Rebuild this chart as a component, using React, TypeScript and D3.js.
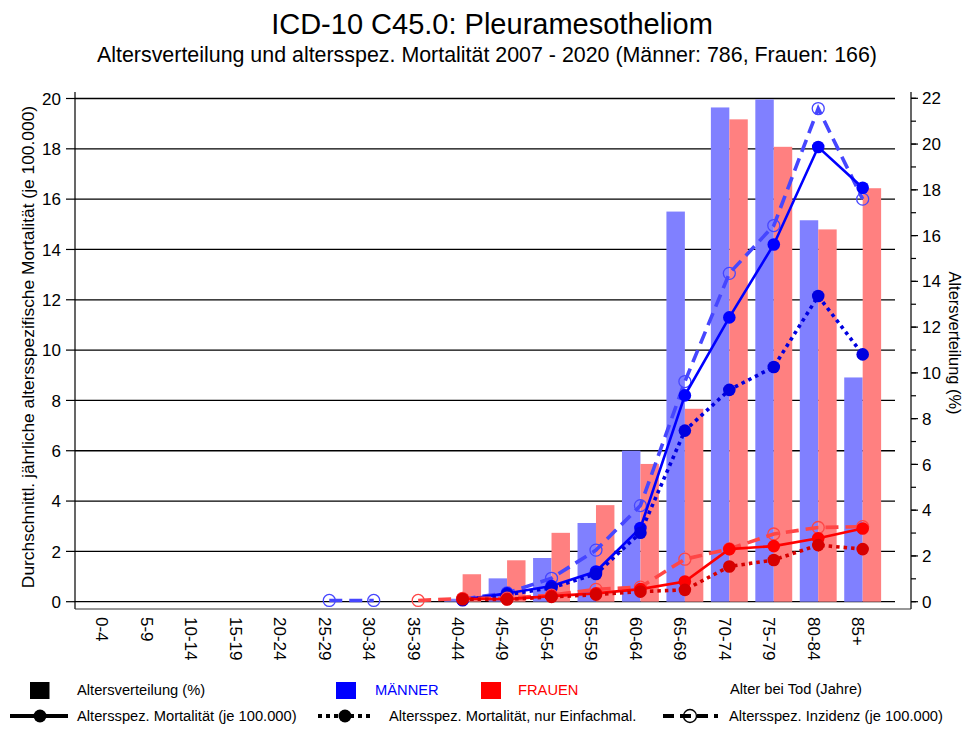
import React from "react";
import * as d3 from "d3";

const categories = ["0-4","5-9","10-14","15-19","20-24","25-29","30-34","35-39","40-44","45-49","50-54","55-59","60-64","65-69","70-74","75-79","80-84","85+"];
const maleDist = [0,0,0,0,0,0,0,0,0.13,1.02,1.91,3.44,6.6,17.05,21.6,21.95,16.67,9.8];
const femaleDist = [0,0,0,0,0,0,0,0,1.2,1.81,3.01,4.22,6.02,8.43,21.08,19.88,16.27,18.07];
const maleMort = [null,null,null,null,null,null,null,null,0.08,0.33,0.62,1.2,2.93,8.2,11.3,14.2,18.07,16.45];
const maleMortSingle = [null,null,null,null,null,null,null,null,0.06,0.28,0.55,1.1,2.74,6.8,8.42,9.33,12.15,9.83];
const maleInc = [null,null,null,null,null,0.05,0.05,null,0.1,0.35,0.93,2.05,3.82,8.75,13.05,14.95,19.6,16.0];
const femaleMort = [null,null,null,null,null,null,null,null,0.12,0.1,0.22,0.33,0.5,0.8,2.09,2.21,2.52,2.91];
const femaleMortSingle = [null,null,null,null,null,null,null,null,0.1,0.09,0.19,0.28,0.4,0.47,1.4,1.66,2.25,2.09];
const femaleInc = [null,null,null,null,null,null,null,0.05,0.13,0.14,0.26,0.49,0.58,1.69,2.1,2.69,2.95,2.98];
const leftTicks = [0,2,4,6,8,10,12,14,16,18,20];
const rightTicks = [0,2,4,6,8,10,12,14,16,18,20,22];
const rightMinor = d3.range(0, 23, 1);

const FONT = "'Liberation Sans', Arial, sans-serif";

export default function App() {
  const W = 964, H = 729;
  const axL = 75, axR = 911, axTop = 92, axBot = 609;
  const x = d3.scaleBand<string>().domain(categories).range([84.8, 884.9]).padding(0);
  const cx = (c: string) => (x(c) as number) + x.bandwidth() / 2;
  const yL = d3.scaleLinear().domain([0, 20]).range([601.7, 98.5]);
  const yR = d3.scaleLinear().domain([0, 22]).range([601.7, 98.3]);
  const bw = x.bandwidth() * 0.415;

  const line = d3.line<number | null>()
    .defined((d) => d != null)
    .x((_, i) => cx(categories[i]))
    .y((d) => yL(d as number));

  const blue = "#0000FF", red = "#FF0000";
  const blueDash = "#4646FF", redDash = "#FF4646";
  const blueDot = "#0000E0", redDot = "#D60000";

  const series = (vals: (number|null)[], color: string, kind: "solid"|"dot"|"dash", key: string) => {
    const dash = kind === "solid" ? undefined : kind === "dot" ? "3.5,4" : "13,7";
    const sw = kind === "solid" ? 2.6 : 3.6;
    return (
      <g key={key}>
        <path d={line(vals) || ""} fill="none" stroke={color} strokeWidth={sw} strokeDasharray={dash} />
        {vals.map((v, i) => v == null ? null : kind === "dash" ? (
          <circle key={i} cx={cx(categories[i])} cy={yL(v)} r={6} fill="none" stroke={color} strokeWidth={1.3} />
        ) : (
          <circle key={i} cx={cx(categories[i])} cy={yL(v)} r={6.3} fill={color} />
        ))}
      </g>
    );
  };

  return (
    <svg width={W} height={H} style={{ position: "absolute", left: 0, top: 0, background: "#fff" }} fontFamily={FONT}>
      <rect x={0} y={0} width={W} height={H} fill="#fff" />
      <text x={492} y={34} textAnchor="middle" fontSize={29}>ICD-10 C45.0: Pleuramesotheliom</text>
      <text x={487} y={62} textAnchor="middle" fontSize={21.4}>Altersverteilung und altersspez. Mortalität 2007 - 2020 (Männer: 786, Frauen: 166)</text>

      {/* gridlines */}
      {leftTicks.map((t) => (
        <line key={"g" + t} x1={axL} x2={895} y1={yL(t)} y2={yL(t)} stroke="#000" strokeWidth={1.3} />
      ))}

      {/* bars */}
      {categories.map((c, i) => (
        <g key={"b" + c}>
          {maleDist[i] > 0 && <rect x={cx(c) - bw} y={yR(maleDist[i])} width={bw} height={yR(0) - yR(maleDist[i])} fill="#8080FF" />}
          {femaleDist[i] > 0 && <rect x={cx(c)} y={yR(femaleDist[i])} width={bw} height={yR(0) - yR(femaleDist[i])} fill="#FF8080" />}
        </g>
      ))}

      {/* lines */}
      {series(maleInc, blueDash, "dash", "mi")}
      {series(maleMort, blue, "solid", "mm")}
      {series(maleMortSingle, blueDot, "dot", "ms")}
      {series(femaleInc, redDash, "dash", "fi")}
      {series(femaleMort, red, "solid", "fm")}
      {series(femaleMortSingle, redDot, "dot", "fs")}

      {/* axes */}
      <line x1={axL} x2={axL} y1={axTop} y2={axBot} stroke="#000" strokeWidth={1.2} />
      <line x1={axR} x2={axR} y1={axTop} y2={axBot} stroke="#000" strokeWidth={1.2} />
      <line x1={axL} x2={axR} y1={axBot} y2={axBot} stroke="#333" strokeWidth={1.2} />
      {leftTicks.map((t) => (
        <g key={"lt" + t}>
          <line x1={66} x2={axL} y1={yL(t)} y2={yL(t)} stroke="#000" strokeWidth={1.2} />
          <text x={61} y={yL(t)} dy="0.36em" textAnchor="end" fontSize={17}>{t}</text>
        </g>
      ))}
      {rightMinor.map((t) => (
        <line key={"rm" + t} x1={axR} x2={axR + 5} y1={yR(t)} y2={yR(t)} stroke="#000" strokeWidth={1.2} />
      ))}
      {rightTicks.map((t) => (
        <g key={"rt" + t}>
          <line x1={axR} x2={axR + 7} y1={yR(t)} y2={yR(t)} stroke="#000" strokeWidth={1.2} />
          <text x={922} y={yR(t)} dy="0.36em" textAnchor="start" fontSize={17}>{t}</text>
        </g>
      ))}
      {categories.map((c) => (
        <text key={"xl" + c} transform={`translate(${cx(c) - 4.5},617) rotate(90)`} dy="0.36em" textAnchor="start" fontSize={17}>{c}</text>
      ))}
      <text transform="translate(28,347) rotate(-90)" dy="0.36em" textAnchor="middle" fontSize={17.4}>Durchschnittl. jährliche altersspezifische Mortalität (je 100.000)</text>
      <text transform="translate(955,343) rotate(90)" dy="0.36em" textAnchor="middle" fontSize={16.4}>Altersverteilung (%)</text>

      {/* legend */}
      <g fontSize={14.7}>
        <rect x={30} y={682} width={19.5} height={17} fill="#000" />
        <text x={77} y={690} dy="0.36em">Altersverteilung (%)</text>
        <rect x={336} y={682} width={20} height={17} fill="#0000FF" />
        <text x={375} y={690} dy="0.36em" fill="#0000FF">MÄNNER</text>
        <rect x={481} y={682} width={20} height={17} fill="#FF0000" />
        <text x={518} y={690} dy="0.36em" fill="#FF0000">FRAUEN</text>
        <text x={730} y={689} dy="0.36em">Alter bei Tod (Jahre)</text>

        <line x1={10} x2={68} y1={716} y2={716} stroke="#000" strokeWidth={4} />
        <circle cx={40} cy={716} r={6.5} fill="#000" />
        <text x={77} y={716} dy="0.36em">Altersspez. Mortalität (je 100.000)</text>

        <line x1={318} x2={372} y1={716} y2={716} stroke="#000" strokeWidth={4} strokeDasharray="4,4" />
        <circle cx={345} cy={716} r={6.5} fill="#000" />
        <text x={389} y={716} dy="0.36em">Altersspez. Mortalität, nur Einfachmal.</text>

        <line x1={663} x2={718} y1={716} y2={716} stroke="#000" strokeWidth={4} strokeDasharray="11,6" />
        <circle cx={690} cy={716} r={6.5} fill="none" stroke="#000" strokeWidth={1.4} />
        <text x={729} y={716} dy="0.36em">Altersspez. Inzidenz (je 100.000)</text>
      </g>
    </svg>
  );
}
